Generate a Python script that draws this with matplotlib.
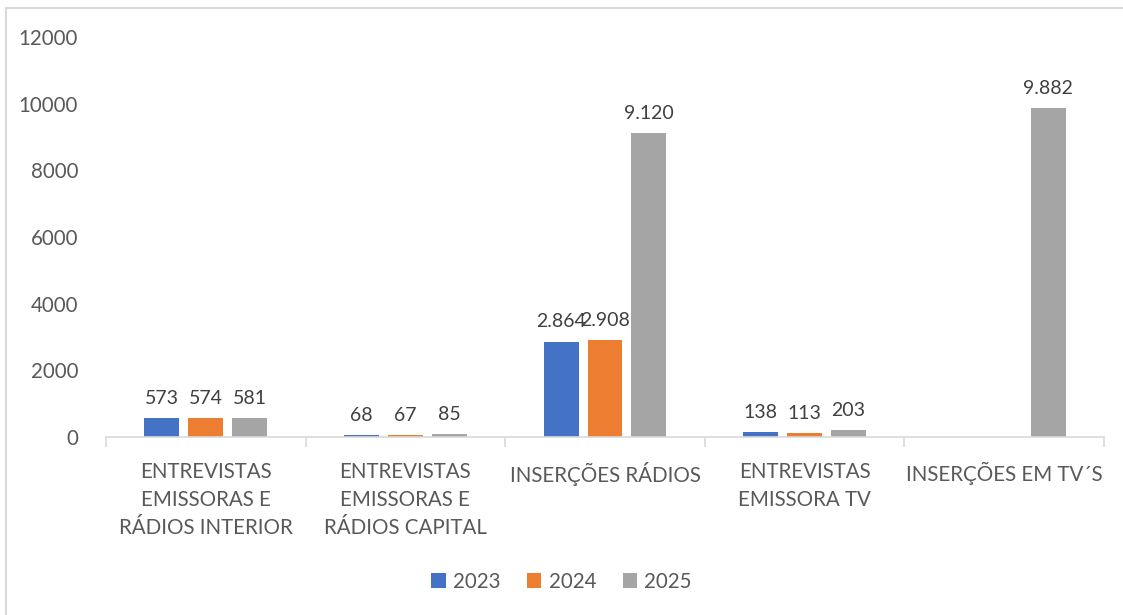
import numpy as np
import matplotlib.pyplot as plt
from matplotlib.lines import Line2D

plt.rcParams['font.family'] = ['Lato', 'DejaVu Sans']

# categories and yearly values
categorias = ['ENTREVISTAS\nEMISSORAS E\nRÁDIOS INTERIOR',
              'ENTREVISTAS\nEMISSORAS E\nRÁDIOS CAPITAL',
              'INSERÇÕES RÁDIOS',
              'ENTREVISTAS\nEMISSORA TV',
              'INSERÇÕES EM TV´S']
anos = ['2023', '2024', '2025']
v2023 = [573, 68, 2864, 138, None]
v2024 = [574, 67, 2908, 113, None]
v2025 = [581, 85, 9120, 203, 9882]
cores = ['#4472C4', '#ED7D31', '#A5A5A5']

texto = '#595959'

fig = plt.figure(figsize=(11.23, 6.15), dpi=100)
ax = fig.add_axes([0.0944, 0.2894, 0.8887, 0.6504])

x = np.arange(len(categorias))
larg = 0.175
passo = 0.22
for i, (serie, cor) in enumerate(zip([v2023, v2024, v2025], cores)):
    pos = x + (i - 1) * passo
    vals = [np.nan if v is None else v for v in serie]
    ax.bar(pos, vals, width=larg, color=cor, label=anos[i], zorder=2)
    for p, v in zip(pos, serie):
        if v is None:
            continue
        rot = f'{v:,}'.replace(',', '.')
        ax.annotate(rot, (p, v), xytext=(0, 8), textcoords='offset points',
                    ha='center', va='bottom', fontsize=14, color='#404040')

ax.set_xlim(-0.5, len(categorias) - 0.5)
ax.set_ylim(0, 12000)
ax.set_yticks(np.arange(0, 12001, 2000))
ax.set_yticklabels([str(t) for t in range(0, 12001, 2000)])

ax.set_xticks(x)
ax.set_xticklabels(categorias, linespacing=1.5)
ax.set_xticks(np.arange(-0.5, len(categorias)), minor=True)
ax.tick_params(axis='x', which='major', length=0, pad=18, labelsize=14.8, colors=texto)
ax.tick_params(axis='x', which='minor', length=7, color='#D9D9D9', width=1.2)
ax.tick_params(axis='y', length=0, pad=20, labelsize=14.8, colors=texto)

for lado in ['top', 'right', 'left']:
    ax.spines[lado].set_visible(False)
ax.spines['bottom'].set_color('#D9D9D9')
ax.spines['bottom'].set_linewidth(1.2)

leg = fig.legend(loc='center', bbox_to_anchor=(0.5, 0.054), ncol=3, frameon=False,
                 fontsize=14.8, handlelength=0.7, handleheight=0.7,
                 handletextpad=0.35, columnspacing=1.3)
for t in leg.get_texts():
    t.set_color(texto)

# chart area frame (top and left edges)
fig.add_artist(Line2D([5.5 / 1123, 1], [1 - 8 / 615, 1 - 8 / 615],
                      transform=fig.transFigure, color='#D9D9D9', lw=1.5))
fig.add_artist(Line2D([5.5 / 1123, 5.5 / 1123], [0, 1 - 8 / 615],
                      transform=fig.transFigure, color='#D9D9D9', lw=1.5))

fig.savefig('out.png', dpi=100)
